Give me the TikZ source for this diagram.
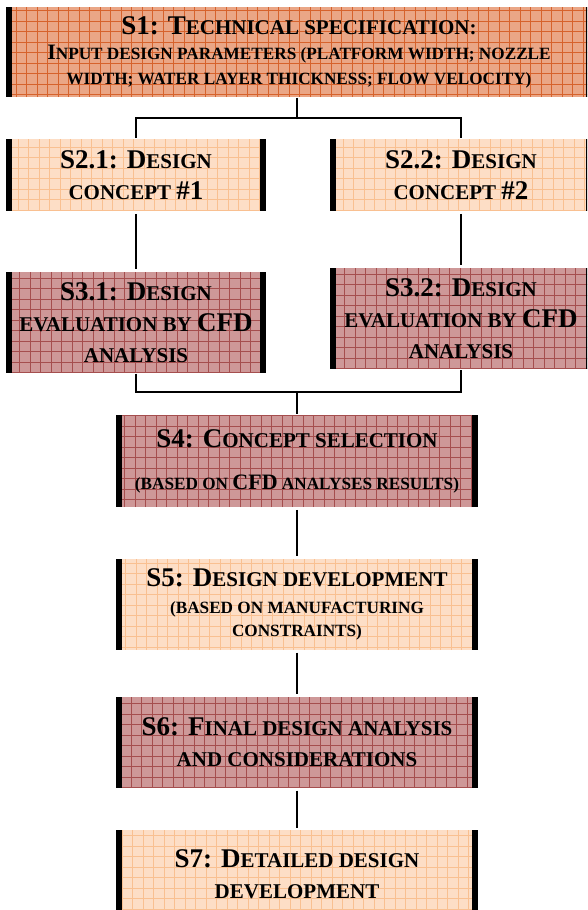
\documentclass[tikz,border=0pt]{standalone}
\usepackage{fontspec}
\setmainfont{Liberation Serif}
\usetikzlibrary{positioning}

\definecolor{specfill}{RGB}{234,166,134}
\definecolor{specgrid}{RGB}{214,98,44}
\definecolor{lightfill}{RGB}{253,222,198}
\definecolor{lightgrid}{RGB}{249,192,145}
\definecolor{darkfill}{RGB}{206,152,152}
\definecolor{darkgrid}{RGB}{165,78,78}

% capitals and small capitals
\newcommand{\capbig}{\fontsize{27}{31}\selectfont}
\newcommand{\capsmall}{\fontsize{21}{31}\selectfont}
\newcommand{\notebig}{\fontsize{22}{25}\selectfont}
\newcommand{\notesmall}{\fontsize{17.2}{25}\selectfont}

\begin{document}
\begin{tikzpicture}[x=1pt,y=-1pt,line width=1.8pt,
  box/.style={rectangle,inner sep=0pt,align=center,font=\bfseries\capsmall,
    path picture={
      \draw[#1,line width=0.5pt] (path picture bounding box.south west)
        grid[step=10.5pt] (path picture bounding box.north east);
      \fill[black] (path picture bounding box.south west)
        rectangle ([xshift=6pt]path picture bounding box.north west);
      \fill[black] (path picture bounding box.south east)
        rectangle ([xshift=-6pt]path picture bounding box.north east);}},
  spec node/.style={box=specgrid,fill=specfill},
  light node/.style={box=lightgrid,fill=lightfill},
  dark node/.style={box=darkgrid,fill=darkfill},
  side node/.style={minimum width=260pt},
  main node/.style={minimum width=362pt,minimum height=91pt}]
  \useasboundingbox (0,0) rectangle (587,910);
  \clip (0,0) rectangle (587,910);

  \node[spec node,minimum width=586pt,minimum height=90pt,font=\bfseries\notesmall] (s1) at (299,52)
    {{\capsmall{\capbig S1: T}ECHNICAL SPECIFICATION:}\\
     {\notebig I}NPUT DESIGN PARAMETERS (PLATFORM WIDTH; NOZZLE\\
     WIDTH; WATER LAYER THICKNESS; FLOW VELOCITY)};

  \node[light node,side node,minimum height=72pt] (s21) at (136,175)
    {{\capbig S2.1: D}ESIGN\\ CONCEPT {\capbig\#1}};
  \node[light node,side node,minimum width=262pt,minimum height=72pt] (s22) at (461,175)
    {{\capbig S2.2: D}ESIGN\\ CONCEPT {\capbig\#2}};
  \node[dark node,side node,minimum height=101pt] (s31) [below=59pt of s21]
    {{\capbig S3.1: D}ESIGN\\ EVALUATION BY {\capbig CFD}\\ ANALYSIS};
  \node[dark node,side node,minimum width=262pt,minimum height=101pt] (s32) [below=55pt of s22]
    {{\capbig S3.2: D}ESIGN\\ EVALUATION BY {\capbig CFD}\\ ANALYSIS};

  \node[dark node,main node,minimum height=92pt] (s4) at (297,461)
    {{\capbig S4: C}ONCEPT SELECTION\\[11pt]
     {\notesmall(BASED ON {\notebig CFD} ANALYSES RESULTS)}};
  \node[light node,main node,font=\bfseries\notesmall] (s5) [below=50pt of s4]
    {{\capsmall{\capbig S5: D}ESIGN DEVELOPMENT}\\[2pt]
     (BASED ON MANUFACTURING\\[-2pt] CONSTRAINTS)};
  \node[dark node,main node] (s6) [below=45pt of s5]
    {{\capbig S6: F}INAL DESIGN ANALYSIS\\ AND CONSIDERATIONS};
  \node[light node,main node,minimum height=88pt] (s7) [below=41pt of s6]
    {{\capbig S7: D}ETAILED DESIGN\\ DEVELOPMENT};

  % branching and joining lines
  \coordinate (split) at (297,118);
  \coordinate (merge) at (297,392);
  \draw (s1.south -| split) -- (split);
  \draw (s21.north) |- (split) -| (s22.north);
  \draw (s31.south) |- (merge) -| (s32.south);
  \draw (merge) -- (s4.north);
  \path[shorten <=2pt,shorten >=2pt]
    (s21) edge (s31)
    (s22) edge (s32)
    (s4)  edge (s5)
    (s5)  edge (s6)
    (s6)  edge (s7);
\end{tikzpicture}
\end{document}
